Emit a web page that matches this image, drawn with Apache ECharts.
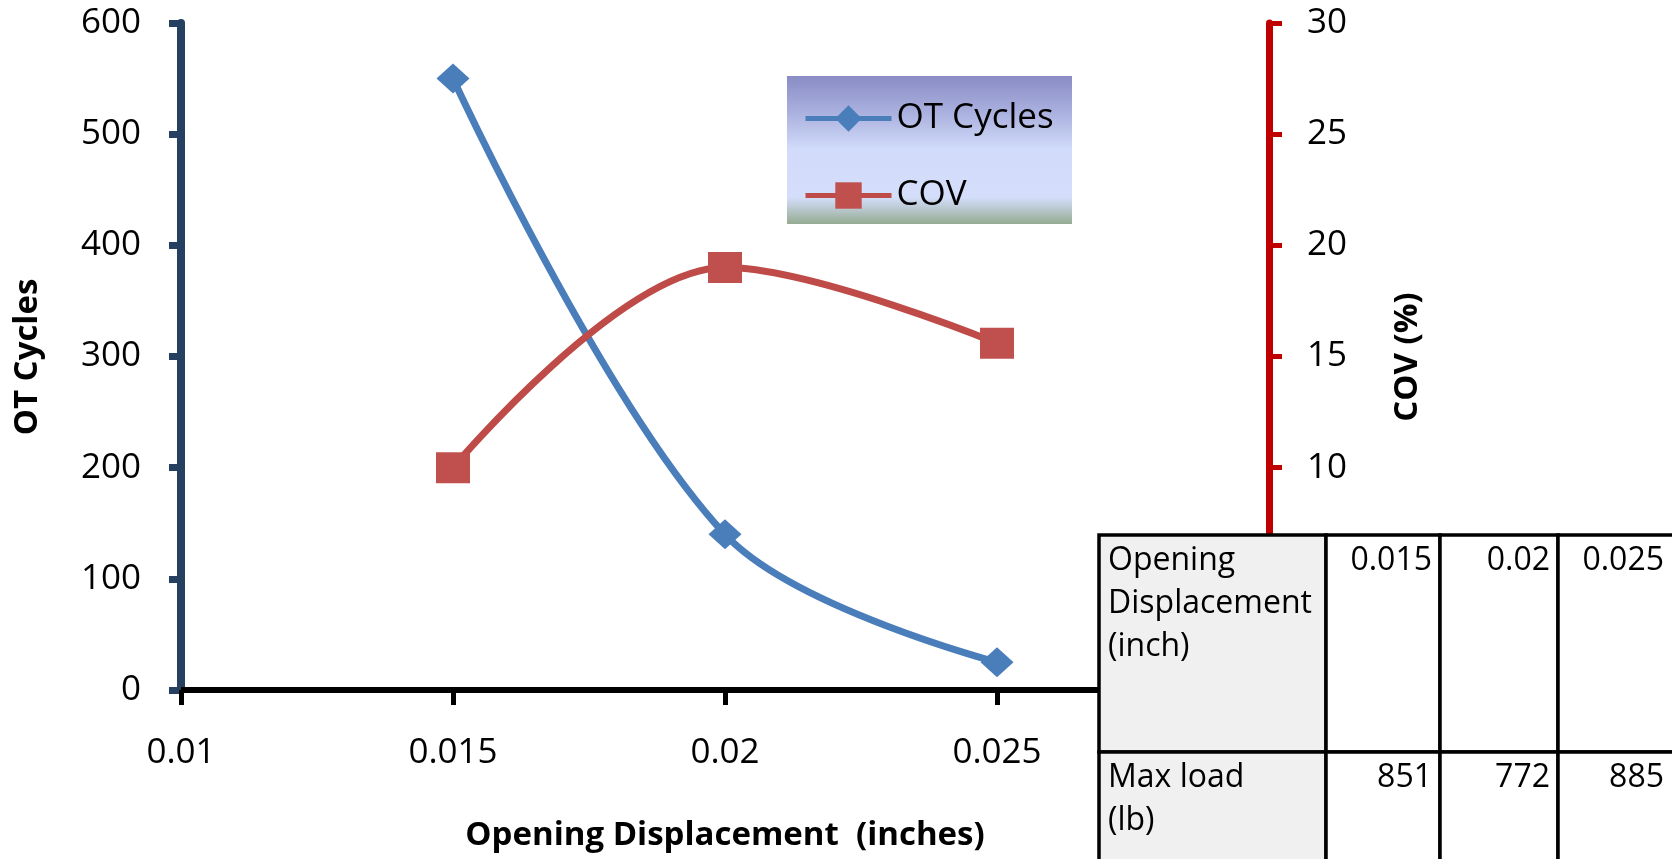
<!DOCTYPE html>
<html>
<head>
<meta charset="utf-8">
<title>OT Cycles and COV vs Opening Displacement</title>
<script src="https://cdn.jsdelivr.net/npm/echarts@6/dist/echarts.min.js"></script>
<style>
  html, body { margin: 0; padding: 0; background: #ffffff; }
  #chart { width: 1672px; height: 859px; }
</style>
</head>
<body>
<div id="chart"></div>
<script>
// Opening displacement (inch) tested
const displacement = [0.015, 0.02, 0.025];
// Overlay Tester cycles to failure
const otCycles = [550, 140, 25];
// Coefficient of variation (%)
const cov = [10, 19, 15.6];
// Maximum load (lb) for each displacement
const maxLoad = [851, 772, 885];
// Row headers of the summary table
const tableRowLabels = ['Opening\nDisplacement\n(inch)', 'Max load\n(lb)'];

const FONT = '"Open Sans", "Liberation Sans", sans-serif';

const chart = echarts.init(document.getElementById('chart'), null, { renderer: 'canvas' });

// Summary table drawn as graphic elements in the lower-right corner
const colX = [1099, 1326, 1440, 1558, 1700];
const rowY = [535, 752, 900];
const tableCells = [];
for (let r = 0; r < 2; r++) {
  for (let c = 0; c < 4; c++) {
    tableCells.push({
      type: 'rect',
      shape: { x: colX[c], y: rowY[r], width: colX[c + 1] - colX[c], height: rowY[r + 1] - rowY[r] },
      style: { fill: c === 0 ? '#f0f0f0' : '#ffffff', stroke: '#000000', lineWidth: 3.5 },
      z: 100
    });
  }
}
const rowValues = [displacement, maxLoad];
const tableTexts = [];
for (let r = 0; r < 2; r++) {
  tableTexts.push({
    type: 'text',
    x: colX[0] + 9,
    y: rowY[r] + 4,
    style: {
      text: tableRowLabels[r], font: '32px ' + FONT, fill: '#000000',
      align: 'left', verticalAlign: 'top', lineHeight: 43
    },
    z: 101
  });
  for (let c = 0; c < 3; c++) {
    tableTexts.push({
      type: 'text',
      x: (c < 2 ? colX[c + 2] : 1672) - 8,
      y: rowY[r] + 4,
      style: {
        text: String(rowValues[r][c]), font: '32px ' + FONT, fill: '#000000',
        align: 'right', verticalAlign: 'top', lineHeight: 43
      },
      z: 101
    });
  }
}

const option = {
  backgroundColor: '#ffffff',
  animation: false,
  grid: { left: 181, right: 403, top: 23, bottom: 169, containLabel: false },
  legend: {
    orient: 'vertical',
    left: 798,
    top: 96,
    itemWidth: 86,
    itemHeight: 33,
    itemGap: 42,
    z: 20,
    lineStyle: { width: 5 },
    textStyle: { fontFamily: FONT, fontSize: 35, color: '#000000' },
    data: ['OT Cycles', 'COV']
  },
  xAxis: {
    type: 'value',
    min: 0.01,
    max: 0.03,
    interval: 0.005,
    splitLine: { show: false },
    axisLine: { show: true, lineStyle: { color: '#000000', width: 6 } },
    axisTick: { show: true, inside: false, length: 15, lineStyle: { color: '#000000', width: 5 } },
    axisLabel: {
      margin: 46, fontFamily: FONT, fontSize: 35, color: '#000000',
      formatter: v => String(+v.toFixed(3))
    }
  },
  yAxis: [
    {
      type: 'value', min: 0, max: 600, interval: 100, position: 'left',
      splitLine: { show: false },
      axisLine: { show: true, lineStyle: { color: '#254061', width: 8 } },
      axisTick: { show: true, inside: false, length: 12, lineStyle: { color: '#254061', width: 7 } },
      axisLabel: { margin: 40, fontFamily: FONT, fontSize: 35, color: '#000000' }
    },
    {
      type: 'value', min: 0, max: 30, interval: 5, position: 'right',
      splitLine: { show: false },
      axisLine: { show: true, lineStyle: { color: '#c00000', width: 7 } },
      axisTick: { show: true, inside: false, length: 13, lineStyle: { color: '#c00000', width: 5 } },
      axisLabel: { margin: 38, fontFamily: FONT, fontSize: 35, color: '#000000' }
    }
  ],
  series: [
    {
      name: 'OT Cycles',
      type: 'line',
      yAxisIndex: 0,
      smooth: 0.35,
      symbol: 'diamond',
      symbolSize: [33, 30],
      lineStyle: { color: '#4a7ebb', width: 7 },
      itemStyle: { color: '#4a7ebb' },
      data: displacement.map((x, i) => [x, otCycles[i]]),
      z: 3
    },
    {
      name: 'COV',
      type: 'line',
      yAxisIndex: 1,
      smooth: 0.35,
      symbol: 'rect',
      symbolSize: [34, 31],
      lineStyle: { color: '#be4b48', width: 7 },
      itemStyle: { color: '#c0504d' },
      data: displacement.map((x, i) => [x, cov[i]]),
      z: 4
    }
  ],
  graphic: [
    // legend panel background
    {
      type: 'rect',
      z: 1,
      shape: { x: 787, y: 76, width: 285, height: 148 },
      style: {
        fill: new echarts.graphic.LinearGradient(0, 0, 0, 1, [
          { offset: 0, color: '#8a8cc5' },
          { offset: 0.25, color: '#aab1df' },
          { offset: 0.5, color: '#d2dcfa' },
          { offset: 0.82, color: '#d4defb' },
          { offset: 1, color: '#95ab92' }
        ])
      }
    },
    // axis titles
    {
      type: 'text', x: 28, y: 357, rotation: Math.PI / 2, z: 10,
      style: { text: 'OT Cycles', font: 'bold 33px ' + FONT, fill: '#000000', align: 'center', verticalAlign: 'middle' }
    },
    {
      type: 'text', x: 1408, y: 357, rotation: Math.PI / 2, z: 10,
      style: { text: 'COV (%)', font: 'bold 33px ' + FONT, fill: '#000000', align: 'center', verticalAlign: 'middle' }
    },
    {
      type: 'text', x: 725, y: 836, z: 10,
      style: { text: 'Opening Displacement  (inches)', font: 'bold 33px ' + FONT, fill: '#000000', align: 'center', verticalAlign: 'middle' }
    },
    ...tableCells,
    ...tableTexts
  ]
};

chart.setOption(option);
</script>
</body>
</html>
